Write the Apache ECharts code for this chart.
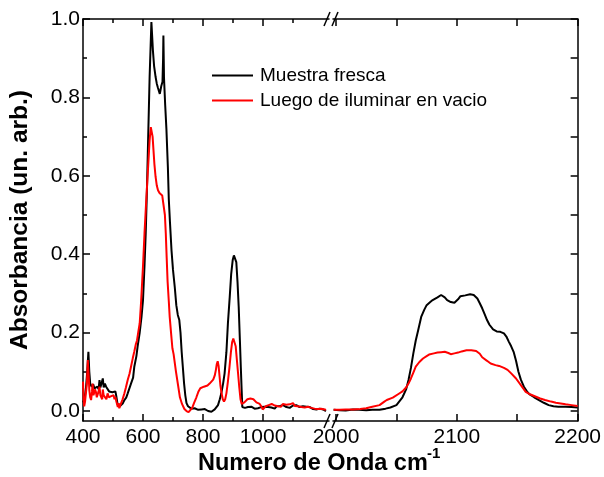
<!DOCTYPE html>
<html>
<head>
<meta charset="utf-8">
<script src="https://cdn.jsdelivr.net/npm/echarts@6/dist/echarts.min.js"></script>
<style>
  html, body { margin: 0; padding: 0; background: #fff; }
  #chart { width: 604px; height: 477px; }
</style>
</head>
<body>
<div id="chart"></div>
<script>
// ---- IR absorbance spectra: fresh sample vs. after illumination in vacuum ----

// Low wavenumber window (400–1220 cm-1), fresh sample
const freshLowX = [400, 405, 410, 414, 418, 421, 424, 429, 434, 438, 443, 448, 452, 455, 458, 461, 466, 469, 473, 477, 482, 487, 493, 498, 504, 508, 511, 515, 521, 527, 533, 538, 544, 549, 555, 560, 567, 571, 578, 582, 589, 595, 600, 605, 609, 613, 617, 622, 628, 633, 637, 642, 646, 650, 656, 661, 665, 667, 668, 670, 674, 678, 683, 686, 690, 695, 700, 706, 711, 716, 721, 725, 729, 733, 737, 741, 745, 750, 756, 761, 767, 772, 778, 784, 790, 795, 800, 806, 811, 817, 822, 828, 833, 839, 845, 850, 856, 861, 867, 872, 878, 883, 889, 894, 899, 903, 907, 911, 915, 919, 923, 926, 929, 931, 935, 940, 945, 950, 956, 961, 967, 972, 978, 983, 989, 994, 1000, 1006, 1011, 1017, 1022, 1028, 1033, 1039, 1045, 1050, 1056, 1061, 1067, 1072, 1078, 1083, 1089, 1094, 1100, 1106, 1111, 1117, 1122, 1128, 1133, 1139, 1145, 1150, 1156, 1161, 1167, 1172, 1178, 1183, 1189, 1194, 1200, 1206, 1210];
const freshLowY = [0.022, 0.03, 0.06, 0.1, 0.151, 0.1, 0.07, 0.062, 0.068, 0.058, 0.053, 0.062, 0.056, 0.079, 0.06, 0.055, 0.083, 0.06, 0.07, 0.062, 0.058, 0.05, 0.053, 0.048, 0.045, 0.05, 0.038, 0.018, 0.011, 0.014, 0.02, 0.028, 0.034, 0.045, 0.05, 0.07, 0.085, 0.113, 0.14, 0.164, 0.2, 0.24, 0.283, 0.37, 0.453, 0.56, 0.69, 0.85, 0.992, 0.92, 0.88, 0.852, 0.835, 0.824, 0.809, 0.829, 0.84, 0.9, 0.958, 0.85, 0.78, 0.72, 0.62, 0.54, 0.48, 0.41, 0.36, 0.315, 0.27, 0.245, 0.232, 0.2, 0.15, 0.11, 0.07, 0.04, 0.02, 0.012, 0.011, 0.006, 0.003, 0.007, 0.005, 0.003, 0.006, 0.004, 0.002, 0.005, 0.008, 0.0, -0.004, -0.002, 0.002, 0.004, 0.007, 0.015, 0.03, 0.045, 0.07, 0.096, 0.15, 0.223, 0.29, 0.35, 0.385, 0.397, 0.393, 0.38, 0.33, 0.266, 0.18, 0.113, 0.05, 0.01, 0.005, 0.008, 0.012, 0.01, 0.006, 0.011, 0.008, 0.006, 0.01, 0.007, 0.005, 0.01, 0.012, 0.011, 0.008, 0.01, 0.014, 0.009, 0.011, 0.006, 0.012, 0.01, 0.013, 0.008, 0.015, 0.015, 0.01, 0.012, 0.008, 0.013, 0.014, 0.01, 0.015, 0.015, 0.01, 0.013, 0.012, 0.009, 0.011, 0.007, 0.01, 0.007, 0.005, 0.008, 0.004, 0.003, 0.006, 0.002, 0.004, 0.003, 0.0];

// Low wavenumber window, after illumination in vacuum
const litLowX = [400, 402, 404, 407, 410, 413, 416, 419, 421, 424, 427, 430, 432, 435, 438, 440, 443, 446, 449, 452, 455, 458, 461, 464, 466, 469, 472, 475, 478, 482, 486, 490, 494, 498, 502, 505, 508, 511, 513, 516, 519, 521, 524, 527, 532, 538, 543, 549, 555, 560, 566, 571, 576, 580, 585, 589, 594, 600, 605, 611, 617, 622, 626, 629, 632, 635, 638, 642, 646, 650, 655, 660, 664, 667, 670, 673, 676, 679, 682, 686, 689, 694, 698, 702, 710, 717, 723, 730, 738, 745, 752, 758, 764, 770, 778, 785, 791, 797, 803, 809, 815, 822, 828, 834, 839, 843, 846, 849, 852, 855, 858, 862, 866, 870, 874, 878, 883, 888, 893, 897, 901, 905, 909, 913, 917, 921, 925, 929, 933, 938, 943, 948, 953, 958, 963, 968, 973, 978, 984, 989, 994, 999, 1004, 1009, 1014, 1019, 1024, 1029, 1034, 1039, 1044, 1050, 1055, 1060, 1066, 1072, 1078, 1083, 1089, 1094, 1100, 1106, 1111, 1117, 1122, 1128, 1133, 1139, 1145, 1150, 1156, 1161, 1167, 1172, 1178, 1183, 1189, 1194, 1200, 1206, 1210];
const litLowY = [0.075, 0.03, 0.012, 0.025, 0.03, 0.07, 0.13, 0.09, 0.053, 0.035, 0.028, 0.05, 0.07, 0.04, 0.035, 0.055, 0.049, 0.035, 0.04, 0.05, 0.062, 0.04, 0.045, 0.03, 0.055, 0.04, 0.035, 0.04, 0.03, 0.045, 0.035, 0.04, 0.038, 0.035, 0.04, 0.03, 0.036, 0.025, 0.028, 0.01, 0.02, 0.007, 0.012, 0.02, 0.03, 0.045, 0.06, 0.079, 0.095, 0.113, 0.135, 0.152, 0.17, 0.18, 0.205, 0.224, 0.283, 0.37, 0.453, 0.54, 0.622, 0.69, 0.724, 0.729, 0.7, 0.665, 0.63, 0.597, 0.575, 0.563, 0.556, 0.552, 0.55, 0.548, 0.546, 0.5, 0.453, 0.39, 0.33, 0.28, 0.24, 0.195, 0.16, 0.145, 0.1, 0.065, 0.035, 0.018, 0.005, 0.0, -0.003, 0.0, 0.008, 0.02, 0.035, 0.05, 0.058, 0.056, 0.062, 0.06, 0.065, 0.07, 0.072, 0.08, 0.09, 0.105, 0.12, 0.127, 0.115, 0.09, 0.065, 0.045, 0.03, 0.024, 0.03, 0.045, 0.075, 0.11, 0.15, 0.175, 0.185, 0.182, 0.165, 0.13, 0.095, 0.06, 0.03, 0.018, 0.015, 0.022, 0.027, 0.03, 0.028, 0.032, 0.027, 0.03, 0.025, 0.022, 0.02, 0.018, 0.012, 0.004, 0.008, 0.012, 0.01, 0.015, 0.012, 0.018, 0.02, 0.014, 0.017, 0.012, 0.016, 0.011, 0.018, 0.014, 0.016, 0.012, 0.017, 0.015, 0.02, 0.013, 0.016, 0.012, 0.015, 0.01, 0.013, 0.009, 0.008, 0.011, 0.006, 0.008, 0.004, 0.006, 0.003, 0.005, 0.002, 0.006, 0.003, 0.004, 0.003];

// High wavenumber window (2000–2200 cm-1), fresh sample
const freshHighX = [1998, 2003, 2008, 2014, 2019, 2025, 2030, 2036, 2041, 2045, 2050, 2055, 2058, 2060, 2062, 2064, 2066, 2068, 2070.5, 2073, 2075, 2078, 2080, 2084, 2087, 2090, 2092, 2095, 2098, 2101, 2103, 2107, 2111, 2114, 2117, 2119, 2121, 2123, 2125, 2127, 2130, 2133, 2136, 2139, 2141, 2143, 2145, 2147, 2149, 2151, 2153, 2155.5, 2158, 2160, 2164, 2168, 2172, 2176, 2180, 2184, 2190, 2195, 2200];
const freshHighY = [0.003, 0.002, 0.001, 0.004, 0.003, 0.002, 0.003, 0.003, 0.006, 0.009, 0.015, 0.035, 0.055, 0.079, 0.11, 0.147, 0.18, 0.206, 0.24, 0.258, 0.27, 0.278, 0.283, 0.29, 0.296, 0.29, 0.283, 0.278, 0.276, 0.285, 0.293, 0.295, 0.298, 0.296, 0.287, 0.275, 0.262, 0.247, 0.232, 0.22, 0.208, 0.203, 0.202, 0.198, 0.19, 0.177, 0.165, 0.151, 0.128, 0.1, 0.08, 0.062, 0.05, 0.043, 0.035, 0.028, 0.021, 0.015, 0.012, 0.011, 0.011, 0.01, 0.009];

// High wavenumber window, after illumination in vacuum
const litHighX = [1998, 2003, 2008, 2014, 2020, 2025, 2030, 2036, 2040, 2042, 2047, 2052, 2055, 2058, 2060, 2062, 2064, 2066, 2069, 2072, 2075, 2077, 2081, 2084, 2087, 2090, 2093, 2095, 2098, 2101, 2104, 2108, 2112, 2116, 2119, 2121, 2125, 2128, 2132, 2135, 2139, 2142, 2145, 2149, 2153, 2157, 2161, 2165, 2169, 2173, 2178, 2182, 2186, 2190, 2195, 2200];
const litHighY = [0.003, 0.003, 0.004, 0.004, 0.005, 0.007, 0.011, 0.015, 0.024, 0.028, 0.034, 0.044, 0.05, 0.06, 0.07, 0.083, 0.098, 0.113, 0.125, 0.134, 0.14, 0.144, 0.147, 0.149, 0.15, 0.151, 0.148, 0.145, 0.147, 0.149, 0.152, 0.155, 0.155, 0.153, 0.146, 0.137, 0.128, 0.121, 0.117, 0.115, 0.11, 0.105, 0.096, 0.083, 0.066, 0.049, 0.042, 0.037, 0.032, 0.028, 0.024, 0.021, 0.019, 0.017, 0.015, 0.013];

// Axis ranges and tick values
const lowRange = [400, 1220];
const highRange = [1997.5, 2200];
const absRange = [-0.0255, 1.0];
const lowMajorTicks = [400, 600, 800, 1000];
const lowMinorTicks = [500, 700, 900, 1100];
const highTicks = [2000, 2050, 2100, 2150, 2200];
const highLabels = [2000, 2100, 2200];
const absMajorTicks = [0, 0.2, 0.4, 0.6, 0.8, 1.0];
const absMinorTicks = [0.1, 0.3, 0.5, 0.7, 0.9];
const absAllTicks = [0, 0.1, 0.2, 0.3, 0.4, 0.5, 0.6, 0.7, 0.8, 0.9, 1.0];

const seriesNames = ['Muestra fresca', 'Luego de iluminar en vacio'];
const seriesColors = ['#000000', '#ff0000'];

// ---- layout ----
const FONT = "'Liberation Sans', Arial, Helvetica, sans-serif";
const PLOT_TOP = 19, PLOT_HEIGHT = 402;
const LOW_LEFT = 83, LOW_WIDTH = 246;
const HIGH_LEFT = 333, HIGH_WIDTH = 246;
const AXIS_W = 1.5;

function pairs(xs, ys) { return xs.map((x, i) => [x, ys[i]]); }

function axisCommon(extra) {
  return Object.assign({
    type: 'value',
    splitLine: { show: false },
    axisLine: { show: false, lineStyle: { color: '#000', width: AXIS_W } },
    axisLabel: { show: false },
  }, extra);
}

function tickAxis(values, len, showLine, labels, fmt) {
  return {
    axisLine: { show: showLine, onZero: false, lineStyle: { color: '#000', width: AXIS_W } },
    axisTick: { show: true, inside: true, length: len, customValues: values,
                lineStyle: { color: '#000', width: AXIS_W } },
    axisLabel: labels ? { show: true, customValues: labels, formatter: fmt,
                          color: '#000', fontSize: 21, fontFamily: FONT, margin: 6 }
                      : { show: false }
  };
}

const xFmt = v => String(Math.round(v));
const yFmt = v => v.toFixed(1);

const xAxes = [
  // low window
  axisCommon(Object.assign({ gridIndex: 0, position: 'bottom', min: lowRange[0], max: lowRange[1] },
    tickAxis(lowMajorTicks, 7, true, lowMajorTicks, xFmt))),
  axisCommon(Object.assign({ gridIndex: 0, position: 'bottom', min: lowRange[0], max: lowRange[1] },
    tickAxis(lowMinorTicks, 4, false))),
  axisCommon(Object.assign({ gridIndex: 0, position: 'top', min: lowRange[0], max: lowRange[1] },
    tickAxis(lowMajorTicks, 7, true))),
  axisCommon(Object.assign({ gridIndex: 0, position: 'top', min: lowRange[0], max: lowRange[1] },
    tickAxis(lowMinorTicks, 4, false))),
  // high window
  axisCommon(Object.assign({ gridIndex: 1, position: 'bottom', min: highRange[0], max: highRange[1] },
    tickAxis(highTicks, 7, true, highLabels, xFmt))),
  axisCommon(Object.assign({ gridIndex: 1, position: 'top', min: highRange[0], max: highRange[1] },
    tickAxis(highTicks, 7, true))),
];
const yAxes = [
  axisCommon(Object.assign({ gridIndex: 0, position: 'left', min: absRange[0], max: absRange[1] },
    tickAxis(absMajorTicks, 7, true, absMajorTicks, yFmt))),
  axisCommon(Object.assign({ gridIndex: 0, position: 'left', min: absRange[0], max: absRange[1] },
    tickAxis(absMinorTicks, 4, false))),
  axisCommon(Object.assign({ gridIndex: 1, position: 'right', min: absRange[0], max: absRange[1] },
    tickAxis(absAllTicks, 7, true))),
];
yAxes[0].axisLabel.margin = 3;

function lineSeries(name, color, data, xi, yi) {
  return {
    type: 'line', name, data, xAxisIndex: xi, yAxisIndex: yi,
    showSymbol: false, symbol: 'none', smooth: false,
    lineStyle: { color, width: 2 }, itemStyle: { color },
    emphasis: { disabled: true }, z: color === '#ff0000' ? 3 : 2
  };
}

// axis-break slashes on top and bottom frame lines
const breakX = [LOW_LEFT + LOW_WIDTH - 5, HIGH_LEFT - 1];
const breakGraphics = [];
[PLOT_TOP, PLOT_TOP + PLOT_HEIGHT].forEach(yy => {
  breakX.forEach(xx => {
    breakGraphics.push({
      type: 'line', silent: true,
      shape: { x1: xx, y1: yy + 7, x2: xx + 6, y2: yy - 7 },
      style: { stroke: '#000', lineWidth: AXIS_W }
    });
  });
});

const option = {
  animation: false,
  backgroundColor: '#ffffff',
  grid: [
    { left: LOW_LEFT, top: PLOT_TOP, width: LOW_WIDTH, height: PLOT_HEIGHT },
    { left: HIGH_LEFT, top: PLOT_TOP, width: HIGH_WIDTH, height: PLOT_HEIGHT }
  ],
  xAxis: xAxes,
  yAxis: yAxes,
  legend: {
    data: seriesNames,
    orient: 'vertical',
    left: 212, top: 66, padding: 0,
    itemWidth: 41, itemHeight: 2, itemGap: 6,
    icon: 'rect',
    textStyle: { fontFamily: FONT, fontSize: 19, color: '#000', padding: [0, 0, 0, 2] },
    selectedMode: false
  },
  series: [
    lineSeries(seriesNames[0], seriesColors[0], pairs(freshLowX, freshLowY), 0, 0),
    lineSeries(seriesNames[0], seriesColors[0], pairs(freshHighX, freshHighY), 4, 2),
    lineSeries(seriesNames[1], seriesColors[1], pairs(litLowX, litLowY), 0, 0),
    lineSeries(seriesNames[1], seriesColors[1], pairs(litHighX, litHighY), 4, 2)
  ],
  graphic: breakGraphics.concat([
    {
      type: 'text', x: 198, y: 464, silent: true,
      style: { text: 'Numero de Onda cm', fontFamily: FONT, fontSize: 23.5, fontWeight: 'bold',
               fill: '#000', align: 'left', verticalAlign: 'middle' }
    },
    {
      type: 'text', x: 427, y: 454, silent: true,
      style: { text: '-1', fontFamily: FONT, fontSize: 15, fontWeight: 'bold',
               fill: '#000', align: 'left', verticalAlign: 'middle' }
    },
    {
      type: 'text', x: 20, y: 220, rotation: Math.PI / 2, silent: true,
      style: { text: 'Absorbancia (un. arb.)', fontFamily: FONT, fontSize: 24.5, fontWeight: 'bold',
               fill: '#000', align: 'center', verticalAlign: 'middle' }
    }
  ])
};

const chart = echarts.init(document.getElementById('chart'), null, { renderer: 'canvas' });
chart.setOption(option);
</script>
</body>
</html>
